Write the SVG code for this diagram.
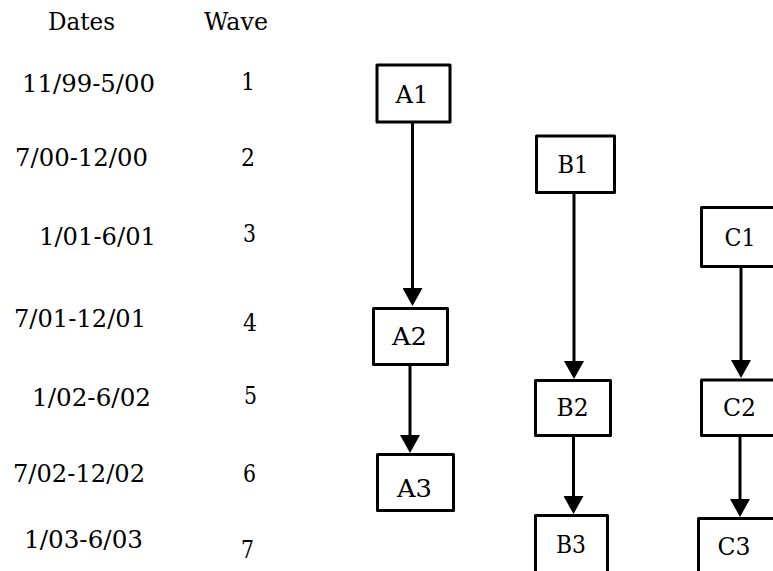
<svg xmlns="http://www.w3.org/2000/svg" width="773" height="571" viewBox="0 0 773 571">
<style>
.lbl{text-anchor:middle}
.box{fill:#fff;stroke:#000;stroke-width:3;stroke-linejoin:round}
.edge{stroke:#000;stroke-width:3;fill:none}
</style>
<defs>
<marker id="ah" viewBox="0 0 18 20" refX="14" refY="10" markerWidth="18" markerHeight="20" markerUnits="userSpaceOnUse" orient="auto">
<path d="M0,0 L18,10 L0,20 Z" fill="#000"/>
</marker>
</defs>
<rect width="773" height="571" fill="#fff"/>
<g font-family="'DejaVu Serif', serif" font-size="25" fill="#000">
<g id="headers">
<text x="48" y="30" textLength="67" lengthAdjust="spacingAndGlyphs">Dates</text>
<text x="204" y="30" textLength="64" lengthAdjust="spacingAndGlyphs">Wave</text>
</g>
<g id="dates">
<text x="22" y="92" textLength="133" lengthAdjust="spacingAndGlyphs">11/99-5/00</text>
<text x="15" y="166" textLength="133" lengthAdjust="spacingAndGlyphs">7/00-12/00</text>
<text x="39" y="245" textLength="117" lengthAdjust="spacingAndGlyphs">1/01-6/01</text>
<text x="14" y="327" textLength="132" lengthAdjust="spacingAndGlyphs">7/01-12/01</text>
<text x="32" y="406" textLength="119" lengthAdjust="spacingAndGlyphs">1/02-6/02</text>
<text x="13" y="482" textLength="132" lengthAdjust="spacingAndGlyphs">7/02-12/02</text>
<text x="24" y="548" textLength="119" lengthAdjust="spacingAndGlyphs">1/03-6/03</text>
</g>
<g id="waves">
<text x="241" y="90" textLength="14" lengthAdjust="spacingAndGlyphs">1</text>
<text x="241" y="166" textLength="14" lengthAdjust="spacingAndGlyphs">2</text>
<text x="243" y="242" textLength="13" lengthAdjust="spacingAndGlyphs">3</text>
<text x="243" y="331" textLength="14" lengthAdjust="spacingAndGlyphs">4</text>
<text x="244" y="404" textLength="13" lengthAdjust="spacingAndGlyphs">5</text>
<text x="243" y="482" textLength="13" lengthAdjust="spacingAndGlyphs">6</text>
<text x="241" y="558" textLength="13" lengthAdjust="spacingAndGlyphs">7</text>
</g>
</g>
<g id="connectors">
<line class="edge" x1="412.5" y1="123" x2="412.5" y2="302" marker-end="url(#ah)"/>
<line class="edge" x1="410" y1="366" x2="410" y2="449" marker-end="url(#ah)"/>
<line class="edge" x1="574" y1="194" x2="574" y2="375" marker-end="url(#ah)"/>
<line class="edge" x1="573.5" y1="437" x2="573.5" y2="510" marker-end="url(#ah)"/>
<line class="edge" x1="741" y1="268" x2="741" y2="374" marker-end="url(#ah)"/>
<line class="edge" x1="740" y1="437" x2="740" y2="513" marker-end="url(#ah)"/>
</g>
<g font-family="'DejaVu Serif', serif" font-size="25" fill="#000">
<g id="A1"><rect class="box" x="377" y="65" width="73" height="57"/><text class="lbl" x="412" y="103" textLength="33" lengthAdjust="spacingAndGlyphs">A1</text></g>
<g id="A2"><rect class="box" x="373.5" y="308.5" width="74" height="56"/><text class="lbl" x="409.5" y="345" textLength="35" lengthAdjust="spacingAndGlyphs">A2</text></g>
<g id="A3"><rect class="box" x="377.5" y="454.5" width="76" height="56"/><text class="lbl" x="414.5" y="497" textLength="35" lengthAdjust="spacingAndGlyphs">A3</text></g>
<g id="B1"><rect class="box" x="536.5" y="136" width="78" height="56.5"/><text class="lbl" x="573" y="173" textLength="31" lengthAdjust="spacingAndGlyphs">B1</text></g>
<g id="B2"><rect class="box" x="535.5" y="380.5" width="75" height="55"/><text class="lbl" x="572.5" y="416" textLength="32" lengthAdjust="spacingAndGlyphs">B2</text></g>
<g id="B3"><rect class="box" x="535.5" y="515.5" width="72" height="60"/><text class="lbl" x="571" y="553" textLength="30" lengthAdjust="spacingAndGlyphs">B3</text></g>
<g id="C1"><rect class="box" x="701.5" y="207.5" width="80" height="59"/><text class="lbl" x="740" y="246" textLength="31" lengthAdjust="spacingAndGlyphs">C1</text></g>
<g id="C2"><rect class="box" x="701.5" y="380" width="80" height="55.5"/><text class="lbl" x="739.5" y="416" textLength="33" lengthAdjust="spacingAndGlyphs">C2</text></g>
<g id="C3"><rect class="box" x="698.5" y="518.5" width="80" height="60"/><text class="lbl" x="734" y="555" textLength="33" lengthAdjust="spacingAndGlyphs">C3</text></g>
</g>
</svg>
